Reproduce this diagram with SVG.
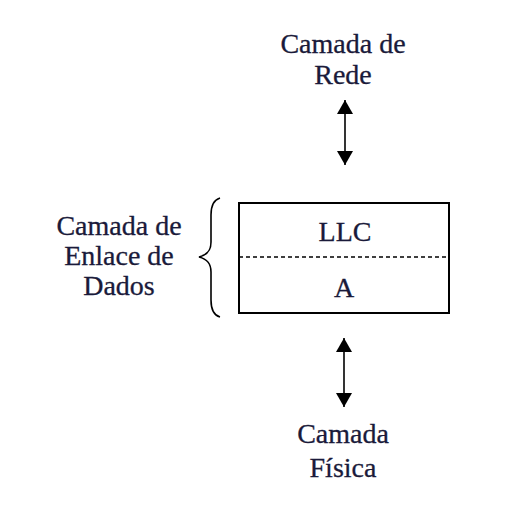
<svg xmlns="http://www.w3.org/2000/svg" width="512" height="508" viewBox="0 0 512 508">
<style>
text{font-family:"Liberation Serif","DejaVu Serif",serif;font-size:28px;fill:#1a1a3a;text-anchor:middle;stroke:#1a1a3a;stroke-width:0.3}
.ln{stroke:#000;stroke-width:1.6;fill:none}
</style>
<defs>
<marker id="ah" viewBox="0 0 14 16" refX="14" refY="8" markerWidth="14" markerHeight="16" markerUnits="userSpaceOnUse" orient="auto-start-reverse">
<path d="M0,0 L14,8 L0,16 Z" fill="#000"/>
</marker>
</defs>
<rect width="512" height="508" fill="#fff"/>
<g id="rede">
<text x="343" y="53">Camada de</text>
<text x="343" y="84">Rede</text>
</g>
<g id="enlace">
<rect x="239" y="203" width="210" height="110" fill="#fff" stroke="#000" stroke-width="2"/>
<line x1="239" y1="257" x2="449" y2="257" stroke="#000" stroke-width="1.5" stroke-dasharray="4,3"/>
<text x="345" y="241">LLC</text>
<text x="344" y="297">A</text>
</g>
<g id="enlace-label">
<text x="119" y="235">Camada de</text>
<text x="119" y="265">Enlace de</text>
<text x="119" y="295">Dados</text>
<path class="ln" d="M220,198 C213,200 211,206 211,215 L211,242 C211,251 207,255 199,257 C207,259 211,263 211,272 L211,300 C211,309 213,315 220,317"/>
</g>
<g id="fisica">
<text x="343" y="443">Camada</text>
<text x="343" y="477">Física</text>
</g>
<g id="connectors">
<line class="ln" x1="345" y1="100" x2="345" y2="165" marker-start="url(#ah)" marker-end="url(#ah)"/>
<line class="ln" x1="344" y1="338" x2="344" y2="407" marker-start="url(#ah)" marker-end="url(#ah)"/>
</g>
</svg>
